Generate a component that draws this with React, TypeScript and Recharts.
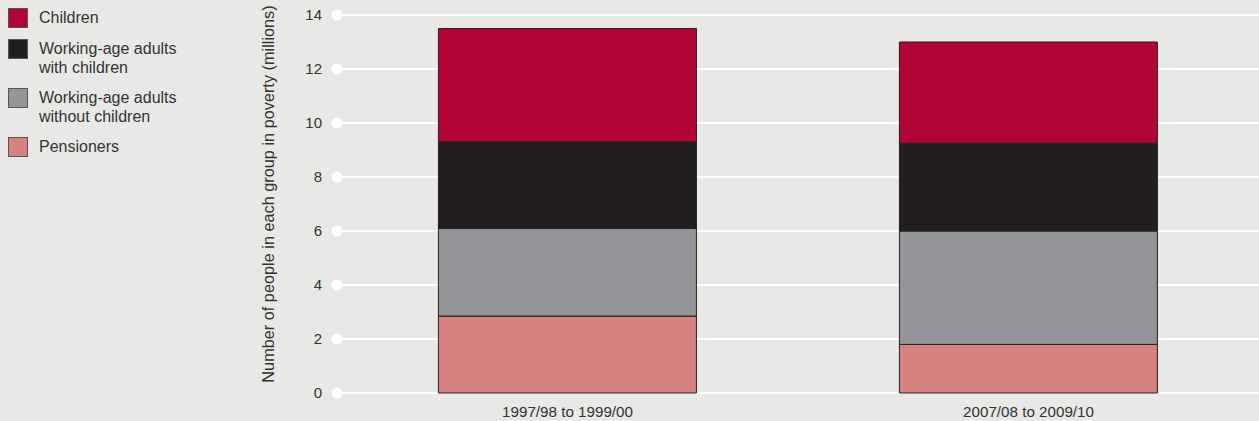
import React from "react";
import { BarChart, Bar, XAxis, YAxis, CartesianGrid } from "recharts";

const categories = ["1997/98 to 1999/00", "2007/08 to 2009/10"];
const pensioners = [2.85, 1.8];
const adultsWithoutChildren = [3.25, 4.2];
const adultsWithChildren = [3.2, 3.25];
const children = [4.2, 3.75];
const yTicks = [0, 2, 4, 6, 8, 10, 12, 14];

const seriesInfo = [
  { key: "children", label: ["Children"], color: "#b10535" },
  { key: "withChildren", label: ["Working-age adults", "with children"], color: "#231f20" },
  { key: "withoutChildren", label: ["Working-age adults", "without children"], color: "#939598" },
  { key: "pensioners", label: ["Pensioners"], color: "#d58280" },
];

const data = categories.map((c, i) => ({
  name: c,
  pensioners: pensioners[i],
  withoutChildren: adultsWithoutChildren[i],
  withChildren: adultsWithChildren[i],
  children: children[i],
}));

const FONT = "'Liberation Sans', Arial, Helvetica, sans-serif";
const TEXT = "#333333";

const YTick = (props: any) => {
  const { x, y, payload } = props;
  return (
    <g>
      <circle cx={x} cy={y} r={5.5} fill="#ffffff" />
      <text x={x - 15} y={y} dy="0.35em" textAnchor="end" fontSize={15} fill={TEXT} fontFamily={FONT}>
        {payload.value}
      </text>
    </g>
  );
};

const AxisLabel = (props: any) => {
  const vb = props.viewBox || {};
  const cx = vb.x + 268;
  const cy = vb.y + vb.height / 2 - 10;
  return (
    <text
      x={cx}
      y={cy}
      transform={`rotate(-90, ${cx}, ${cy})`}
      textAnchor="middle"
      dy="0.35em"
      fontSize={16.3}
      fill={TEXT}
      fontFamily={FONT}
    >
      Number of people in each group in poverty (millions)
    </text>
  );
};

const LegendBox = () => (
  <div
    style={{
      position: "absolute",
      left: 8,
      top: 8,
      fontFamily: FONT,
      fontSize: 16,
      color: TEXT,
      lineHeight: "19px",
    }}
  >
    {seriesInfo.map((s, i) => (
      <div key={s.key} style={{ display: "flex", alignItems: "flex-start", marginBottom: 11 }}>
        <div
          style={{
            width: 18,
            height: 18,
            background: s.color,
            border: "1px solid #555",
            marginRight: 11,
            flexShrink: 0,
          }}
        />
        <div>
          {s.label.map((l, j) => (
            <div key={j}>{l}</div>
          ))}
        </div>
      </div>
    ))}
  </div>
);

export default function App() {
  return (
    <div style={{ position: "absolute", left: 0, top: 0, width: 1259, height: 421, background: "#e8e9e6" }}>
      <BarChart
        width={1259}
        height={421}
        data={data}
        margin={{ top: 15, right: 0, bottom: 0, left: 0 }}
        barCategoryGap="22%"
      >
        <CartesianGrid horizontal vertical={false} stroke="#ffffff" strokeWidth={2} />
        <XAxis
          dataKey="name"
          axisLine={false}
          tickLine={false}
          tickSize={0}
          tickMargin={13}
          height={28}
          tick={{ fontSize: 15.2, fill: TEXT, fontFamily: FONT }}
        />
        <YAxis
          width={337}
          domain={[0, 14]}
          ticks={yTicks}
          axisLine={false}
          tickLine={false}
          tickSize={0}
          tickMargin={0}
          tick={<YTick />}
          label={<AxisLabel />}
        />
        <Bar dataKey="pensioners" stackId="a" fill="#d58280" stroke="#231f20" strokeWidth={1} isAnimationActive={false} />
        <Bar dataKey="withoutChildren" stackId="a" fill="#939598" stroke="#231f20" strokeWidth={1} isAnimationActive={false} />
        <Bar dataKey="withChildren" stackId="a" fill="#231f20" stroke="#231f20" strokeWidth={1} isAnimationActive={false} />
        <Bar dataKey="children" stackId="a" fill="#b10535" stroke="#231f20" strokeWidth={1} isAnimationActive={false} />
      </BarChart>
      <LegendBox />
    </div>
  );
}
